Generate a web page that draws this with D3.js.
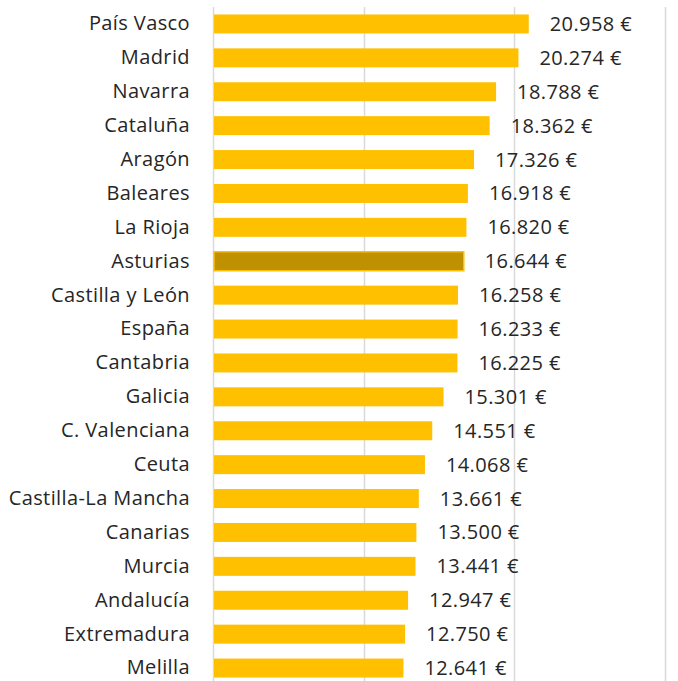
<!DOCTYPE html>
<html>
<head>
<meta charset="utf-8">
<script src="https://cdn.jsdelivr.net/npm/d3@7"></script>
<style>
  body { margin: 0; background: #fff; }
  text { font-family: 'Open Sans', sans-serif; fill: #262626; letter-spacing: 0.4px; }
</style>
</head>
<body>
<div id="chart"></div>
<script>
const regions = ['País Vasco', 'Madrid', 'Navarra', 'Cataluña', 'Aragón', 'Baleares', 'La Rioja',
  'Asturias', 'Castilla y León', 'España', 'Cantabria', 'Galicia', 'C. Valenciana', 'Ceuta',
  'Castilla-La Mancha', 'Canarias', 'Murcia', 'Andalucía', 'Extremadura', 'Melilla']
const values = [20958, 20274, 18788, 18362, 17326, 16918, 16820, 16644, 16258, 16233, 16225,
  15301, 14551, 14068, 13661, 13500, 13441, 12947, 12750, 12641]
const highlight = 'Asturias'
const gridTicks = [0, 10000, 20000, 30000]

const width = 678
const height = 681
const margin = { top: 7, left: 213, right: 13, bottom: -4 }
const fontSize = 20

const svg = d3.select('#chart').append('svg')
  .attr('width', width).attr('height', height)

const x = d3.scaleLinear().domain([0, 30000]).range([margin.left, width - margin.right])
const y = d3.scaleBand().domain(regions)
  .range([margin.top, height - margin.bottom])
  .paddingInner(0.44).paddingOuter(0.22)

// gridlines
svg.append('g').selectAll('line')
  .data(gridTicks)
  .enter().append('line')
  .attr('x1', d => Math.round(x(d)) + 0.5)
  .attr('x2', d => Math.round(x(d)) + 0.5)
  .attr('y1', margin.top)
  .attr('y2', height)
  .attr('stroke', '#d9d9d9')
  .attr('stroke-width', 1.5)

const data = regions.map((r, i) => ({ region: r, value: values[i] }))

svg.append('g').selectAll('rect')
  .data(data)
  .enter().append('rect')
  .attr('x', x(0) + 1)
  .attr('y', d => y(d.region))
  .attr('width', d => x(d.value) - x(0) - 1)
  .attr('height', y.bandwidth())
  .attr('fill', d => d.region === highlight ? '#bf9000' : '#ffc000')
  .attr('stroke', d => d.region === highlight ? '#ffc000' : 'none')
  .attr('stroke-width', 1.5)

// category labels
const yAxis = d3.axisLeft(y).tickSize(0).tickPadding(0)
svg.append('g')
  .attr('transform', 'translate(190,0)')
  .call(yAxis)
  .call(g => g.select('.domain').remove())
  .selectAll('text')
  .attr('font-size', fontSize)
  .attr('fill', '#262626')
  .style('font-family', "'Open Sans', sans-serif")

const fmt = d3.formatLocale({ decimal: ',', thousands: '.', grouping: [3], currency: ['', ' €'] }).format(',')

svg.append('g').selectAll('text')
  .data(data)
  .enter().append('text')
  .attr('x', d => x(d.value) + 21)
  .attr('y', d => y(d.region) + y.bandwidth() / 2)
  .attr('dy', '0.35em')
  .attr('font-size', fontSize)
  .text(d => fmt(d.value) + ' €')
</script>
</body>
</html>
